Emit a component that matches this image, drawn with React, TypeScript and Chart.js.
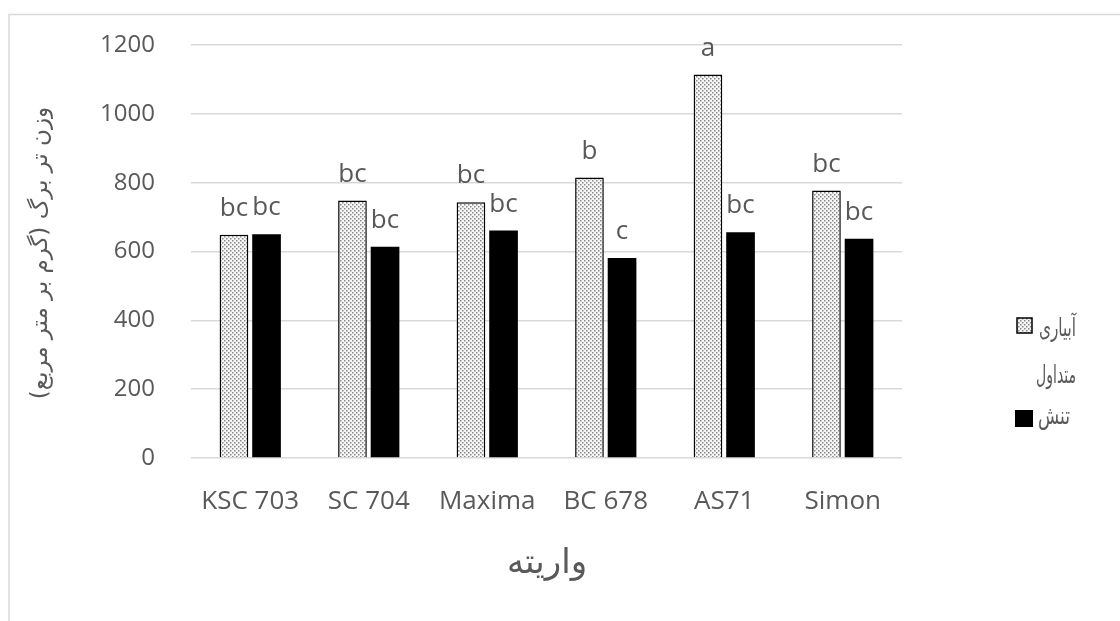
import React, { useEffect, useRef } from 'react';
import { Chart, registerables } from 'chart.js';

Chart.register(...registerables);

const categories = ['KSC 703', 'SC 704', 'Maxima', 'BC 678', 'AS71', 'Simon'];
const irrigated = [649, 748, 743, 815, 1114, 777];
const stress = [650, 614, 661, 581, 656, 637];
const irrigatedLetters = ['bc', 'bc', 'bc', 'b', 'a', 'bc'];
const stressLetters = ['bc', 'bc', 'bc', 'c', 'bc', 'bc'];
const yTickValues = [0, 200, 400, 600, 800, 1000, 1200];
const legendIrrigatedLines = ['آبیاری', 'متداول'];
const legendStress = 'تنش';
const seriesNames = ['آبیاری متداول', 'تنش'];
const xTitle = 'واریته';
const yTitle = 'وزن تر برگ (گرم بر متر مربع)';

const TEXT = '#595959';
const GRID = '#d9d9d9';
const ARABIC_FONT = '"DejaVu Sans", sans-serif';

function makePattern(ctx: CanvasRenderingContext2D): CanvasPattern | string {
  const c = document.createElement('canvas');
  c.width = 4;
  c.height = 4;
  const p = c.getContext('2d');
  if (!p) return '#ddd';
  p.fillStyle = '#f6f6f6';
  p.fillRect(0, 0, 4, 4);
  p.fillStyle = '#8a8a8a';
  p.fillRect(0, 0, 1.5, 1.5);
  p.fillRect(2, 2, 1.5, 1.5);
  return ctx.createPattern(c, 'repeat') || '#ddd';
}

export default function App() {
  const ref = useRef<HTMLCanvasElement>(null);

  useEffect(() => {
    const canvas = ref.current;
    if (!canvas) return;
    const ctx0 = canvas.getContext('2d')!;
    const pattern = makePattern(ctx0);

    const decor = {
      id: 'decor',
      beforeDraw(chart: any) {
        const ctx = chart.ctx as CanvasRenderingContext2D;
        ctx.save();
        ctx.fillStyle = '#fff';
        ctx.fillRect(0, 0, chart.width, chart.height);
        ctx.strokeStyle = GRID;
        ctx.lineWidth = 1.5;
        ctx.beginPath();
        ctx.moveTo(9, chart.height);
        ctx.lineTo(9, 14.5);
        ctx.lineTo(chart.width, 14.5);
        ctx.stroke();
        ctx.restore();
      },
      afterDatasetsDraw(chart: any) {
        const ctx = chart.ctx as CanvasRenderingContext2D;
        ctx.save();
        ctx.fillStyle = TEXT;
        ctx.font = '26px "Open Sans", sans-serif';
        ctx.textAlign = 'center';
        ctx.textBaseline = 'alphabetic';
        const sets = [irrigatedLetters, stressLetters];
        sets.forEach((letters, di) => {
          const meta = chart.getDatasetMeta(di);
          meta.data.forEach((el: any, i: number) => {
            ctx.fillText(letters[i], el.x, el.y - 19);
          });
        });
        ctx.restore();
      },
      afterDraw(chart: any) {
        const ctx = chart.ctx as CanvasRenderingContext2D;
        ctx.save();
        ctx.fillStyle = TEXT;
        (ctx as any).direction = 'rtl';
        // X title
        ctx.font = `34px ${ARABIC_FONT}`;
        ctx.textAlign = 'center';
        ctx.textBaseline = 'middle';
        ctx.fillText(xTitle, 547, 564, 84);
        // Y title
        ctx.save();
        ctx.translate(41, 253);
        ctx.rotate(-Math.PI / 2);
        ctx.font = `23px ${ARABIC_FONT}`;
        ctx.textAlign = 'center';
        ctx.textBaseline = 'middle';
        ctx.fillText(yTitle, 0, 0, 305);
        ctx.restore();
        // Legend
        ctx.fillStyle = pattern as any;
        ctx.fillRect(1017, 318, 15, 15);
        ctx.strokeStyle = '#000';
        ctx.lineWidth = 1.5;
        ctx.strokeRect(1017, 318, 15, 15);
        ctx.fillStyle = '#000';
        ctx.fillRect(1015, 410, 18, 17);
        ctx.fillStyle = TEXT;
        ctx.font = `25px ${ARABIC_FONT}`;
        ctx.textAlign = 'right';
        ctx.textBaseline = 'middle';
        ctx.fillText(legendIrrigatedLines[0], 1076, 329, 37);
        ctx.fillText(legendIrrigatedLines[1], 1076, 376, 40);
        ctx.fillText(legendStress, 1070, 417, 32);
        ctx.restore();
      },
    };

    const chart = new Chart(canvas, {
      type: 'bar',
      data: {
        labels: categories,
        datasets: [
          {
            label: seriesNames[0],
            data: irrigated,
            backgroundColor: pattern as any,
            borderColor: '#000',
            borderWidth: 1.5,
            categoryPercentage: 0.55,
            barPercentage: 0.88,
          },
          {
            label: seriesNames[1],
            data: stress,
            backgroundColor: '#000',
            borderColor: '#000',
            borderWidth: 0,
            categoryPercentage: 0.55,
            barPercentage: 0.88,
          },
        ],
      },
      options: {
        responsive: false,
        animation: false,
        devicePixelRatio: 1,
        layout: { padding: { top: 45, left: 0, right: 218, bottom: 0 } },
        plugins: {
          legend: { display: false },
          tooltip: { enabled: false },
        },
        scales: {
          x: {
            grid: { display: false },
            border: { display: false },
            ticks: {
              font: { family: 'Open Sans', size: 26 },
              color: TEXT,
              padding: 20,
              maxRotation: 0,
              autoSkip: false,
            },
            afterFit: (s: any) => {
              s.height = 163;
            },
          },
          y: {
            min: 0,
            max: 1200,
            afterBuildTicks: (s: any) => {
              s.ticks = yTickValues.map((v) => ({ value: v }));
            },
            ticks: {
              font: { family: 'Open Sans', size: 24 },
              color: TEXT,
              padding: 0,
              callback: (v: any) => String(v),
            },
            grid: {
              color: GRID,
              lineWidth: 1.5,
              drawTicks: true,
              tickLength: 36,
              tickColor: 'rgba(0,0,0,0)',
            },
            border: { display: false },
            afterFit: (s: any) => {
              s.width = 191;
            },
          },
        },
      },
      plugins: [decor],
    });

    return () => chart.destroy();
  }, []);

  return (
    <div style={{ position: 'absolute', left: 0, top: 0, width: 1120, height: 621, background: '#fff', overflow: 'hidden' }}>
      <canvas ref={ref} width={1120} height={621} style={{ display: 'block', width: 1120, height: 621 }} />
    </div>
  );
}
